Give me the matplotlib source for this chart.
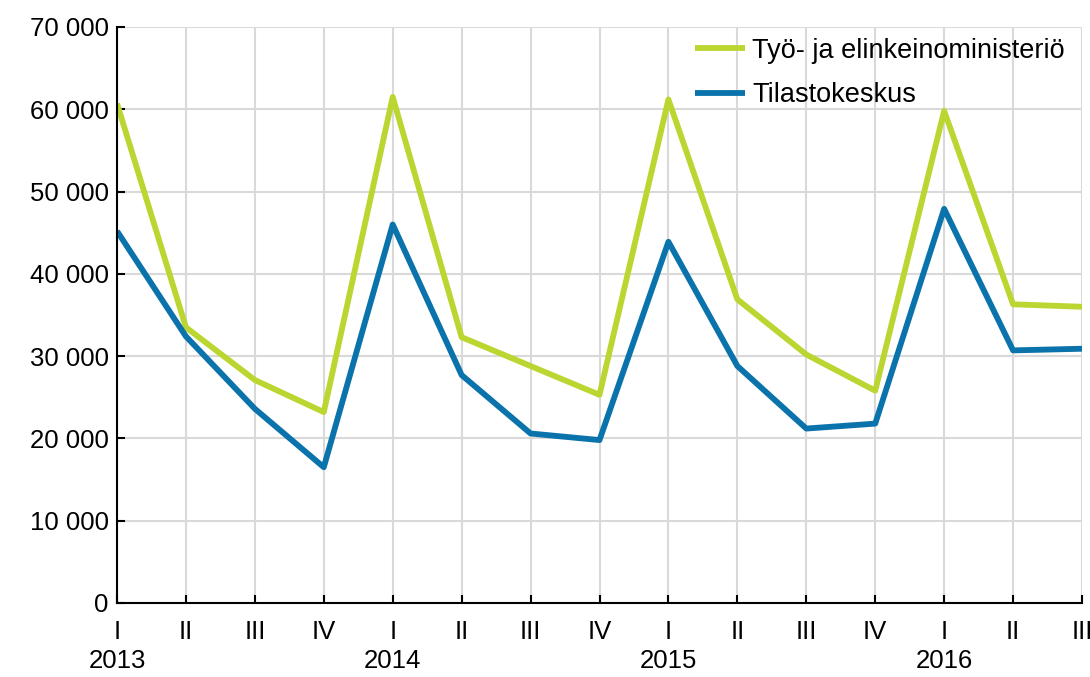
import matplotlib
matplotlib.use("Agg")
import matplotlib.pyplot as plt
from matplotlib.ticker import FuncFormatter

plt.rcParams['font.family'] = ['Liberation Sans', 'DejaVu Sans']

quarters = ['I', 'II', 'III', 'IV'] * 3 + ['I', 'II', 'III']
years = ['2013', '2014', '2015', '2016']

tem = [60700, 33500, 27100, 23200, 61500, 32300, 28800, 25300,
       61200, 36900, 30200, 25800, 59800, 36300, 36000]
tilasto = [45200, 32400, 23600, 16500, 46000, 27700, 20600, 19800,
           43900, 28800, 21200, 21800, 47900, 30700, 30900]

green = '#bcd631'
blue = '#0b73ab'

fig = plt.figure(figsize=(10.9, 6.77), dpi=100)
ax = fig.add_axes([117 / 1090, 1 - 603 / 677, (1082 - 117) / 1090, (603 - 27) / 677])

x = list(range(len(quarters)))
ax.plot(x, tem, color=green, lw=4.2, label='Työ- ja elinkeinoministeriö', solid_capstyle='butt')
ax.plot(x, tilasto, color=blue, lw=4.2, label='Tilastokeskus', solid_capstyle='butt')

ax.set_xlim(0, len(quarters) - 1)
ax.set_ylim(0, 70000)
ax.set_yticks(range(0, 70001, 10000))
ax.yaxis.set_major_formatter(FuncFormatter(lambda v, p: f'{int(v):,}'.replace(',', ' ')))
ax.set_xticks(x)
ax.set_xticklabels(quarters)

ax.grid(True, color='#d9d9d9', lw=1.5)
ax.set_axisbelow(True)
for s in ['top', 'right']:
    ax.spines[s].set_visible(False)
for s in ['left', 'bottom']:
    ax.spines[s].set_linewidth(1.5)
ax.tick_params(direction='in', length=6, width=1.5, labelsize=18.5, pad=12)
ax.tick_params(axis='y', pad=6)

for i, yr in enumerate(years):
    ax.text(i * 4, -0.08, yr, transform=ax.get_xaxis_transform(),
            ha='center', va='top', fontsize=18.5)

ax.legend(loc='upper left', frameon=False, fontsize=19.5, handlelength=1.85,
          handletextpad=0.26, bbox_to_anchor=(0.599, 0.981), borderaxespad=0,
          borderpad=0, labelspacing=0.68)

fig.savefig('out.png', dpi=100)
